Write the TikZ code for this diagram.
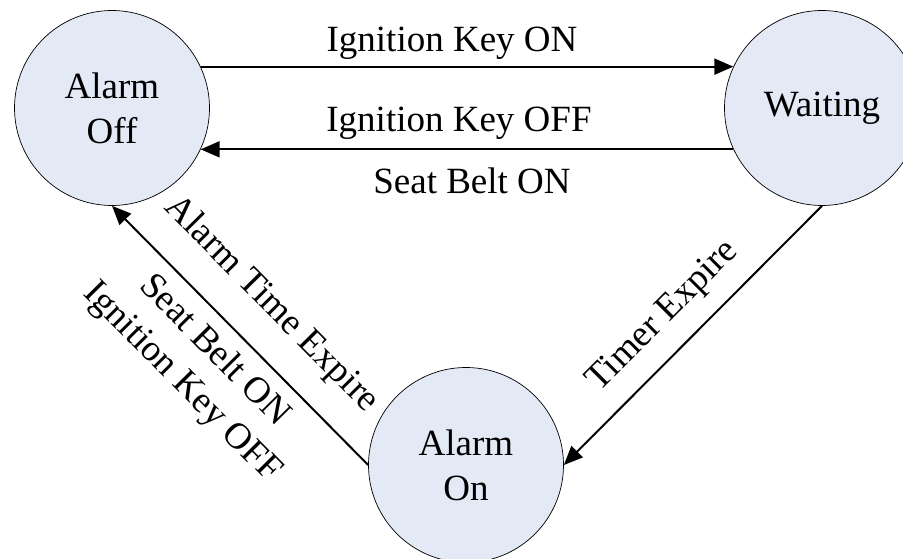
\documentclass[tikz,border=0pt]{standalone}
\usepackage{fontspec}
\setmainfont{Liberation Serif}
\usetikzlibrary{arrows.meta,positioning}
\definecolor{stateblue}{RGB}{227,234,246}

\begin{document}
\begin{tikzpicture}[
    x=1pt, y=-1pt,
    font=\fontsize{37}{45}\selectfont,
    state/.style={circle, draw, fill=stateblue, minimum size=195pt, inner sep=0pt, align=center, line width=0.7pt},
    trans/.style={-{Triangle[length=19pt,width=16pt]}, line width=2pt},
    lbl/.style={inner sep=0pt}
]
\useasboundingbox (0,0) rectangle (903,559);
\clip (0,0) rectangle (903,559);

\node[state] (aoff) at (112,108) {Alarm\\Off};
\node[state] (wait) at (822,108) {Waiting};
\node[state] (aon) at (466,465) {Alarm\\On};

\draw[trans] (aoff.25) -- node[lbl, above=6pt, xshift=-15pt] (lkeyon) {Ignition Key ON} (wait.155);
\draw[trans] (wait.205) -- node[lbl, above=9pt, xshift=-8pt] (lkeyoff) {Ignition Key OFF}
    node[lbl, below=17pt, xshift=5pt] (lbelt) {Seat Belt ON} (aoff.-25);
\draw[trans] (wait.south) -- node[lbl, sloped, above=17pt, pos=0.52] (ltimer) {Timer Expire} (aon.east);
\draw[trans] (aon.west) -- node[lbl, sloped, above=26pt] (lalarm) {Alarm Time Expire}
    node[lbl, sloped, below=12pt, pos=0.52, align=center] (lbeltkey) {Seat Belt ON\\Ignition Key OFF} (aoff.south);
\end{tikzpicture}
\end{document}
